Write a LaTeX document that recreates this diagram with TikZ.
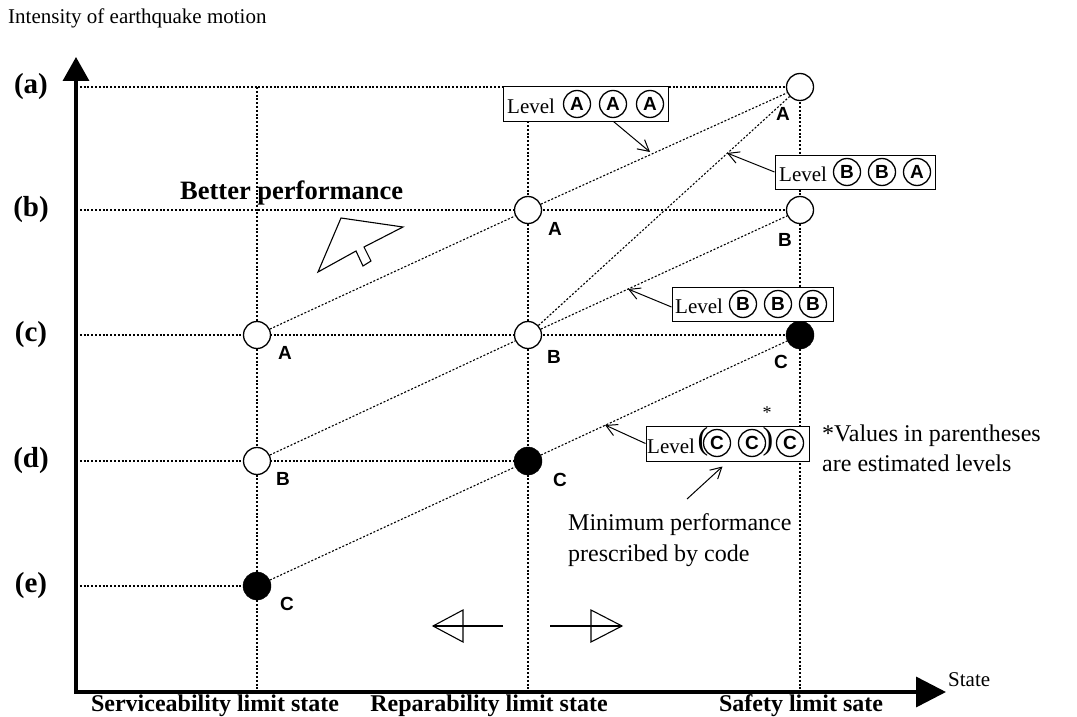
\documentclass[tikz,border=0pt]{standalone}
\usepackage{fontspec}
\setmainfont{Liberation Serif}
\newfontfamily\lsans{Liberation Sans}
\usetikzlibrary{arrows.meta}
\newcommand\fs[1]{\fontsize{#1}{#1}\selectfont}
\begin{document}
\begin{tikzpicture}[x=1pt,y=-1pt,
  grid/.style={dash pattern=on 2pt off 1.8pt,line width=1.1pt},
  opn/.style={circle,draw,fill=white,line width=1.3pt,minimum size=27pt,inner sep=0pt},
  fld/.style={circle,draw,fill=black,minimum size=28pt,inner sep=0pt},
  ptlab/.style={font=\lsans\bfseries\fs{19},inner sep=0pt},
  lvlbox/.style={draw,fill=white,line width=1pt,inner sep=0pt},
  lvltxt/.style={anchor=west,font=\fs{21},inner sep=0pt},
  ring/.style={circle,draw,line width=1.3pt,minimum size=27pt,inner sep=0pt,font=\lsans\bfseries\fs{19}},
  callout/.style={line width=1pt,-{Straight Barb[length=11pt,width=12pt]}},
  axis/.style={line width=3.5pt,{Triangle[length=24pt,width=26pt]}-{Triangle[length=30pt,width=30pt]}},
  lvl/.style={font=\bfseries\fs{29},inner sep=0pt},
  btm/.style={font=\bfseries\fs{24},inner sep=0pt},
  txt/.style={anchor=west,font=\fs{24},inner sep=0pt},
  hollow/.style={line width=1.1pt,line join=miter}
]
\useasboundingbox (0,0) rectangle (1077,717);

% title
\node[anchor=west,font=\fs{21},inner sep=0pt] (title) at (8,18) {Intensity of earthquake motion};

% axes
\coordinate (O) at (76,692);
\coordinate (ytip) at (76,57);
\coordinate (xtip) at (946,692);
\draw[axis] (ytip) -- (O) -- (xtip);

% level coordinates on y axis
\coordinate (ya) at (76,87);
\coordinate (yb) at (76,210);
\coordinate (yc) at (76,335);
\coordinate (yd) at (76,461);
\coordinate (ye) at (76,586);
% column tops / bottoms
\coordinate (t1) at (257,87);
\coordinate (t2) at (528,87);
\coordinate (t3) at (800,87);
\coordinate (b1) at (257,692);
\coordinate (b2) at (528,692);
\coordinate (b3) at (800,692);

% grid
\draw[grid] (t1) -- (b1);
\draw[grid] (t2) -- (b2);
\draw[grid] (t3) -- (b3);
\draw[grid] (ya) -- (t3);
\draw[grid] (yb) -- (800,210);
\draw[grid] (yc) -- (800,335);
\draw[grid] (yd) -- (528,461);
\draw[grid] (ye) -- (257,586);

% points
\node[opn] (pa3) at (800,87) {};
\node[opn] (pb2) at (528,210) {};
\node[opn] (pb3) at (800,210) {};
\node[opn] (pc1) at (257,335) {};
\node[opn] (pc2) at (528,335) {};
\node[fld] (pc3) at (800,335) {};
\node[opn] (pd1) at (257,461) {};
\node[fld] (pd2) at (528,461) {};
\node[fld] (pe1) at (257,586) {};

% diagonals
\draw[grid] (pc1) -- (pb2) -- (pa3);
\draw[grid] (pd1) -- (pc2) -- (pb3);
\draw[grid] (pe1) -- (pd2) -- (pc3);
\draw[grid] (pc2) -- (pa3);

% point letters
\node[ptlab] (la3) at (783,114) {A};
\node[ptlab] (lb2) at (555,229) {A};
\node[ptlab] (lb3) at (785,240) {B};
\node[ptlab] (lc1) at (285,353) {A};
\node[ptlab] (lc2) at (554,357) {B};
\node[ptlab] (lc3) at (781,362) {C};
\node[ptlab] (ld1) at (283,479) {B};
\node[ptlab] (ld2) at (560,480) {C};
\node[ptlab] (le1) at (287,604) {C};

% level labels
\node[lvl] (La) at (31,87) {(a)};
\node[lvl] (Lb) at (31,210) {(b)};
\node[lvl] (Lc) at (31,335) {(c)};
\node[lvl] (Ld) at (31,461) {(d)};
\node[lvl] (Le) at (31,586) {(e)};

% bottom labels
\node[btm] (s1) at (215,706) {Serviceability limit state};
\node[btm] (s2) at (489,706) {Reparability limit state};
\node[btm] (s3) at (801,706) {Safety limit sate};
\node[anchor=west,font=\fs{21},inner sep=0pt] (state) at (948,680) {State};

% better performance
\node[anchor=west,font=\bfseries\fs{26.5},inner sep=0pt] (better) at (180,193) {Better performance};
\draw[hollow] (341,218) -- (403,227) -- (364,247) -- (371,261) -- (363,266) -- (356,251) -- (318,272) -- cycle;

% bottom hollow arrows
\draw[hollow] (503,626) -- (433,626);
\draw[hollow] (433,626) -- (463,610) -- (463,642) -- cycle;
\draw[hollow] (550,626) -- (622,626);
\draw[hollow] (622,626) -- (591,610) -- (591,642) -- cycle;

% box AAA
\node[lvlbox,minimum width=165pt,minimum height=34pt] (bxA) at (585.5,104) {};
\node[lvltxt] (tA) at (507,106) {Level};
\node[ring] (rA1) at (577,104) {A};
\node[ring] (rA2) at (613,104) {A};
\node[ring] (rA3) at (650,104) {A};

% box BBA
\node[lvlbox,minimum width=160pt,minimum height=34pt] (bxBA) at (855,172) {};
\node[lvltxt] (tBA) at (779,174) {Level};
\node[ring] (rBA1) at (847,172) {B};
\node[ring] (rBA2) at (882,172) {B};
\node[ring] (rBA3) at (917,172) {A};

% box BBB
\node[lvlbox,minimum width=161pt,minimum height=34pt] (bxB) at (752.5,304) {};
\node[lvltxt] (tB) at (675,306) {Level};
\node[ring] (rB1) at (743,304) {B};
\node[ring] (rB2) at (778,304) {B};
\node[ring] (rB3) at (813,304) {B};

% box CCC
\node[lvlbox,minimum width=163pt,minimum height=35pt] (bxC) at (727.5,443.5) {};
\node[lvltxt] (tC) at (647,446) {Level};
\node[inner sep=0pt,font=\fs{32}] (pl) at (703,442) {(};
\node[ring] (rC1) at (717,443) {C};
\node[ring] (rC2) at (752,443) {C};
\node[inner sep=0pt,font=\fs{32}] (pr) at (768,442) {)};
\node[ring] (rC3) at (790,443) {C};
\node[inner sep=0pt,font=\fs{18}] (star) at (767,413) {*};

% note texts
\node[txt] (n1) at (822,436) {*Values in parentheses};
\node[txt] (n2) at (822,463) {are estimated levels};
\node[txt] (m1) at (568,525) {Minimum performance};
\node[txt] (m2) at (568,556) {prescribed by code};

% callouts
\coordinate (hA) at (650,152);
\coordinate (hBA) at (727,153);
\coordinate (hB) at (628,289);
\coordinate (hC) at (605,425);
\coordinate (mstart) at (687,499);
\draw[callout] ([xshift=28pt]bxA.south) -- (hA);
\draw[callout] (bxBA.west) -- (hBA);
\draw[callout] ([yshift=-3pt]bxB.west) -- (hB);
\draw[callout] (bxC.west) -- (hC);
\draw[callout] (mstart) -- ([xshift=-5pt,yshift=-5pt]bxC.south);
\end{tikzpicture}
\end{document}
